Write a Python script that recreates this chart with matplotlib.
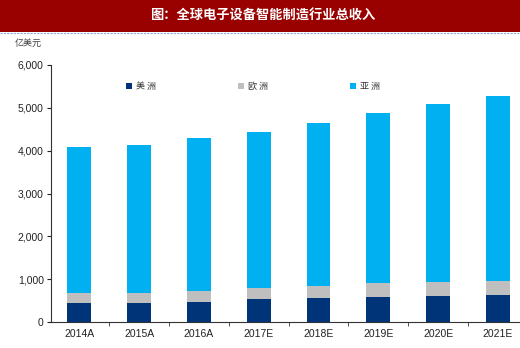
import matplotlib.pyplot as plt
from matplotlib.patches import Rectangle
from matplotlib.lines import Line2D
from matplotlib.ticker import FuncFormatter, FixedLocator

plt.rcParams['font.family'] = ['Noto Sans CJK SC', 'DejaVu Sans']

years = ['2014A', '2015A', '2016A', '2017E', '2018E', '2019E', '2020E', '2021E']
americas = [440, 440, 475, 530, 560, 575, 605, 630]
europe = [230, 230, 250, 255, 280, 325, 320, 325]
totals = [4090, 4130, 4300, 4440, 4650, 4880, 5090, 5280]
asia = [t - a - e for t, a, e in zip(totals, americas, europe)]

c_am = '#003478'
c_eu = '#BFBFBF'
c_as = '#00B0F0'

fig = plt.figure(figsize=(5.2, 3.48), dpi=100)

# header band
fig.patches.append(Rectangle((0, 1 - 32 / 348), 1, 32 / 348, transform=fig.transFigure,
                             facecolor='#990000', edgecolor='none', zorder=0))
fig.lines.append(Line2D([0, 1], [1 - 32.5 / 348] * 2, transform=fig.transFigure,
                        color='#8FA8D8', lw=0.8, ls=(0, (2, 1))))
fig.text(0.505, 1 - 16 / 348, '图：全球电子设备智能制造行业总收入', color='white',
         fontsize=9.5, fontweight='bold', ha='center', va='center')
fig.text(0.028, 1 - 43 / 348, '亿美元', color='#404040', fontsize=6.5, va='center')

ax = fig.add_axes([50.7 / 520, 26 / 348, 1 - 50.7 / 520, 257 / 348])
x = range(len(years))
w = 0.4
ax.bar(x, americas, w, color=c_am, label='美洲', zorder=2)
ax.bar(x, europe, w, bottom=americas, color=c_eu, label='欧洲', zorder=2)
bottom3 = [a + e for a, e in zip(americas, europe)]
ax.bar(x, asia, w, bottom=bottom3, color=c_as, label='亚洲', zorder=2)

ax.set_xlim(-0.48, 7.37)
ax.set_ylim(0, 6000)
ax.set_yticks(range(0, 6001, 1000))
ax.yaxis.set_major_formatter(FuncFormatter(lambda v, p: f'{int(v):,}'))
ax.set_xticks(list(x))
ax.set_xticklabels(years)
ax.xaxis.set_minor_locator(FixedLocator([i + 0.5 for i in range(len(years) - 1)]))
ax.tick_params(axis='x', which='major', length=0, labelsize=7.5, pad=5, colors='#222222')
ax.tick_params(axis='x', which='minor', length=3, direction='out', color='#333333')
ax.tick_params(axis='y', length=3, direction='out', labelsize=7.5, colors='#222222', pad=2)
for lab in ax.get_xticklabels() + ax.get_yticklabels():
    lab.set_family('Liberation Sans')
for s in ['top', 'right']:
    ax.spines[s].set_visible(False)
ax.spines['left'].set_color('#333333')
ax.spines['bottom'].set_color('#333333')

# legend entries spread across the top of the plot
for i, (lbl, col) in enumerate([('美 洲', c_am), ('欧 洲', c_eu), ('亚 洲', c_as)]):
    xs = (129 + i * 112) / 520
    fig.patches.append(Rectangle((xs - 3 / 520, 1 - 89 / 348), 6 / 520, 6 / 348,
                                 transform=fig.transFigure, facecolor=col, edgecolor='none'))
    fig.text(xs + 7 / 520, 1 - 86 / 348, lbl, fontsize=6.5, color='#333333', va='center')

fig.savefig('out.png', dpi=100)
